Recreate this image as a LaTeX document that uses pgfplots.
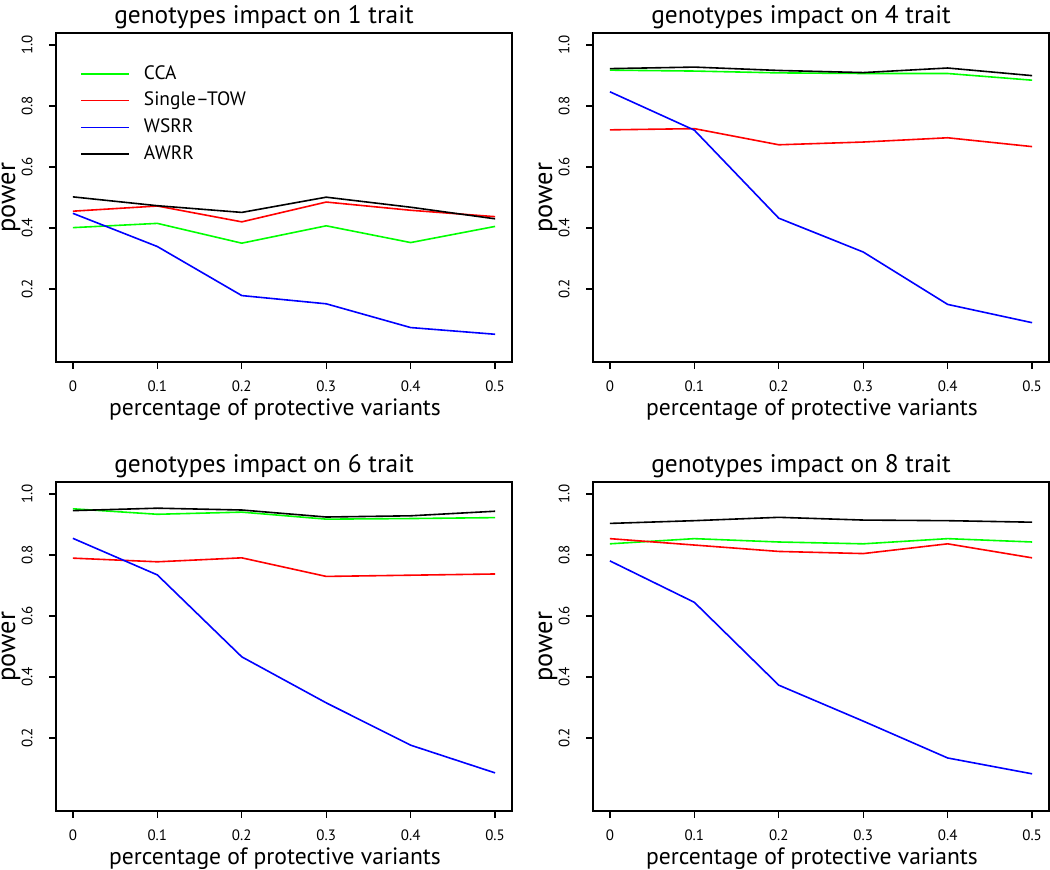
\documentclass[border=0pt]{standalone}
\usepackage{fontspec}
\setmainfont{PT Sans}
\usepackage{pgfplots}
\pgfplotsset{compat=1.18}
\definecolor{rgreen}{RGB}{0,255,0}
\definecolor{rred}{RGB}{255,0,0}
\definecolor{rblue}{RGB}{0,0,255}
\pgfplotsset{
  rpanel/.style={
    scale only axis, width=228pt, height=164.5pt,
    anchor=south west,
    xmin=-0.02, xmax=0.52, ymin=-0.04, ymax=1.04,
    xtick={0,0.1,0.2,0.3,0.4,0.5},
    xticklabels={0,0.1,0.2,0.3,0.4,0.5},
    ytick={0.2,0.4,0.6,0.8,1.0},
    yticklabels={0.2,0.4,0.6,0.8,1.0},
    xtick pos=bottom, ytick pos=left,
    tick align=outside, major tick length=3.5pt,
    axis line style={line width=0.9pt},
    every tick/.style={black, line width=0.7pt},
    ticklabel style={font=\fontsize{7.5}{8}\selectfont},
    yticklabel style={rotate=90, anchor=south, inner sep=0pt, yshift=8pt},
    xticklabel style={inner sep=0pt, yshift=-5.5pt},
    title style={font=\fontsize{12.7}{14}\selectfont, yshift=-7.5pt, xshift=-10pt},
    xlabel={percentage of protective variants},
    ylabel={power},
    xlabel style={font=\fontsize{11.8}{13}\selectfont, yshift=0pt, xshift=-4.5pt},
    ylabel style={font=\fontsize{13.2}{15}\selectfont, inner sep=0pt, yshift=0.5pt},
    every axis plot/.append style={line width=0.8pt},
  }
}
\begin{document}
\begin{tikzpicture}
\useasboundingbox (0,0) rectangle (525pt,435pt);
% panel 1
\begin{axis}[rpanel, at={(28pt,254pt)}, title={genotypes impact on 1 trait},
  legend style={draw=none, fill=none, at={(0.0526,0.903)}, anchor=north west,
    font=\fontsize{9.7}{11}\selectfont, inner sep=0pt, row sep=5pt,
    nodes={inner sep=0pt}},
  legend cell align=left,
  legend image code/.code={\draw[#1] (0pt,0pt) -- (24pt,0pt);},
  legend style={/tikz/every odd column/.append style={column sep=7pt}},
]
\addplot[rgreen] coordinates {(0,0.401) (0.1,0.415) (0.2,0.350) (0.3,0.407) (0.4,0.352) (0.5,0.405)};
\addplot[rred] coordinates {(0,0.455) (0.1,0.472) (0.2,0.420) (0.3,0.485) (0.4,0.458) (0.5,0.437)};
\addplot[rblue] coordinates {(0,0.448) (0.1,0.339) (0.2,0.178) (0.3,0.151) (0.4,0.073) (0.5,0.051)};
\addplot[black] coordinates {(0,0.502) (0.1,0.473) (0.2,0.451) (0.3,0.501) (0.4,0.468) (0.5,0.430)};
\legend{CCA,Single--TOW,WSRR,AWRR}
\end{axis}
% panel 2
\begin{axis}[rpanel, at={(296.5pt,254pt)}, title={genotypes impact on 4 trait}]
\addplot[rgreen] coordinates {(0,0.918) (0.1,0.915) (0.2,0.909) (0.3,0.907) (0.4,0.907) (0.5,0.885)};
\addplot[rred] coordinates {(0,0.722) (0.1,0.726) (0.2,0.673) (0.3,0.682) (0.4,0.696) (0.5,0.667)};
\addplot[rblue] coordinates {(0,0.847) (0.1,0.721) (0.2,0.432) (0.3,0.321) (0.4,0.149) (0.5,0.089)};
\addplot[black] coordinates {(0,0.923) (0.1,0.928) (0.2,0.917) (0.3,0.910) (0.4,0.925) (0.5,0.900)};
\end{axis}
% panel 3
\begin{axis}[rpanel, at={(28pt,29.5pt)}, title={genotypes impact on 6 trait}]
\addplot[rgreen] coordinates {(0,0.952) (0.1,0.934) (0.2,0.941) (0.3,0.918) (0.4,0.920) (0.5,0.923)};
\addplot[rred] coordinates {(0,0.790) (0.1,0.778) (0.2,0.791) (0.3,0.730) (0.4,0.734) (0.5,0.738)};
\addplot[rblue] coordinates {(0,0.855) (0.1,0.735) (0.2,0.466) (0.3,0.315) (0.4,0.176) (0.5,0.085)};
\addplot[black] coordinates {(0,0.946) (0.1,0.954) (0.2,0.948) (0.3,0.925) (0.4,0.929) (0.5,0.944)};
\end{axis}
% panel 4
\begin{axis}[rpanel, at={(296.5pt,29.5pt)}, title={genotypes impact on 8 trait}]
\addplot[rgreen] coordinates {(0,0.837) (0.1,0.854) (0.2,0.843) (0.3,0.837) (0.4,0.854) (0.5,0.843)};
\addplot[rred] coordinates {(0,0.854) (0.1,0.833) (0.2,0.812) (0.3,0.805) (0.4,0.837) (0.5,0.791)};
\addplot[rblue] coordinates {(0,0.781) (0.1,0.645) (0.2,0.373) (0.3,0.255) (0.4,0.134) (0.5,0.082)};
\addplot[black] coordinates {(0,0.904) (0.1,0.913) (0.2,0.924) (0.3,0.915) (0.4,0.913) (0.5,0.908)};
\end{axis}
\end{tikzpicture}
\end{document}
